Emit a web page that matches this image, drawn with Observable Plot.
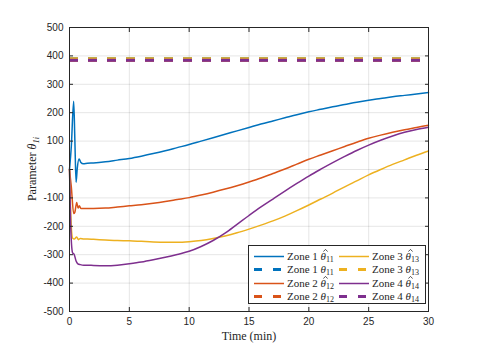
<!DOCTYPE html>
<html><head><meta charset="utf-8">
<script src="https://cdn.jsdelivr.net/npm/d3@7"></script>
<script src="https://cdn.jsdelivr.net/npm/@observablehq/plot@0.6"></script>
<style>
body{margin:0;background:#fff;}
#wrap{position:relative;width:484px;height:347px;}
#legend{position:absolute;left:248px;top:245px;width:176px;height:57px;border:1px solid #262626;background:#fff;font-family:"Liberation Serif",serif;font-size:11px;color:#262626;}
.item{position:absolute;height:13px;line-height:13px;white-space:nowrap;}
.item svg.s{position:absolute;left:0;top:0;}
.item span.t{position:absolute;top:0;}
.hat{position:relative;display:inline-block;font-style:italic;}
.hat svg{position:absolute;left:2px;top:-1px;}
sub{font-size:8px;vertical-align:-2px;line-height:0;}
</style></head><body><div id="wrap"></div>
<script>
// ---- data ----
const zones = ["Zone 1", "Zone 2", "Zone 3", "Zone 4"];
const subs = ["11", "12", "13", "14"];
const colors = ["#0072BD", "#D95319", "#EDB120", "#7E2F8E"];
const xTicks = [0, 5, 10, 15, 20, 25, 30];
const yTicks = [-500, -400, -300, -200, -100, 0, 100, 200, 300, 400, 500];

// true parameter values (dashed)
const trueValues = [390, 385, 390, 385];

// early transient (t < 1.5 min)
const z1TrT = [0, 0.15, 0.35, 0.45, 0.55, 0.65, 0.8, 0.95, 1.15];
const z1TrV = [0, 80, 240, 100, -45, 5, 37, 25, 20];
const z2TrT = [0, 0.15, 0.35, 0.45, 0.6, 0.72, 0.82, 0.95, 1.2];
const z2TrV = [0, -60, -155, -150, -116, -136, -128, -137, -137];
const z3TrT = [0, 0.1, 0.25, 0.4, 0.6, 0.75, 0.9, 1.2];
const z3TrV = [0, -150, -241, -245, -238, -247, -243, -245];
const z4TrT = [0, 0.1, 0.25, 0.4, 0.55, 0.7, 0.9, 1.2];
const z4TrV = [0, -200, -292, -300, -322, -332, -335, -337];

// slow evolution
const timeMin = [1.5, 2, 3, 4, 5, 6, 7, 8, 9, 10, 11, 12, 13, 14, 15, 16, 17, 18, 19, 20, 21, 22, 23, 24, 25, 26, 27, 28, 29, 30];
const z1Est = [22, 23, 27, 33, 39, 47, 56, 66, 77, 88, 100, 112, 124, 136, 148, 160, 171, 182, 193, 203, 212, 221, 229, 237, 244, 250, 256, 261, 266, 271];
const z2Est = [-137, -137, -136, -132, -128, -124, -119, -113, -106, -99, -90, -80, -69, -57, -44, -30, -14, 2, 19, 36, 51, 66, 81, 96, 110, 121, 131, 140, 148, 156];
const z3Est = [-245, -246, -248, -250, -251, -253, -255, -256, -256, -254, -250, -243, -234, -223, -210, -196, -181, -164, -145, -125, -104, -83, -61, -40, -19, 0, 18, 34, 50, 65];
const z4Est = [-337, -338, -339, -337, -332, -326, -318, -309, -299, -288, -271, -250, -224, -193, -162, -132, -104, -76, -49, -23, 1, 24, 46, 67, 86, 103, 118, 131, 141, 149];

const trT = [z1TrT, z2TrT, z3TrT, z4TrT];
const trV = [z1TrV, z2TrV, z3TrV, z4TrV];
const est = [z1Est, z2Est, z3Est, z4Est];

const series = zones.map((z, i) => [
  ...trT[i].map((t, j) => ({t, v: trV[i][j]})),
  ...timeMin.map((t, j) => ({t, v: est[i][j]}))
]);

const marks = [
  Plot.gridX(xTicks, {stroke: "#000", strokeOpacity: 0.1}),
  Plot.gridY(yTicks, {stroke: "#000", strokeOpacity: 0.1})
];
zones.forEach((z, i) => {
  marks.push(Plot.line(series[i], {x: "t", y: "v", stroke: colors[i], strokeWidth: 1.5, curve: "monotone-x"}));
  marks.push(Plot.ruleY([trueValues[i]], {stroke: colors[i], strokeWidth: 3, strokeDasharray: "9,10"}));
});
marks.push(
  Plot.frame({stroke: "#262626"}),
  Plot.axisX(xTicks, {tickSize: 0, tickPadding: 6, label: null, tickFormat: d => String(d)}),
  Plot.axisX(xTicks, {anchor: "bottom", tickSize: -4, tickFormat: () => "", label: null}),
  Plot.axisX(xTicks, {anchor: "top", tickSize: -4, tickFormat: () => "", label: null}),
  Plot.axisY(yTicks, {tickSize: 0, tickPadding: 6, label: null, tickFormat: d => String(d)}),
  Plot.axisY(yTicks, {anchor: "left", tickSize: -4, tickFormat: () => "", label: null}),
  Plot.axisY(yTicks, {anchor: "right", tickSize: -4, tickFormat: () => "", label: null})
);

const chart = Plot.plot({
  width: 484, height: 347,
  marginLeft: 69, marginRight: 56, marginTop: 27, marginBottom: 36,
  x: {domain: [0, 30]},
  y: {domain: [-500, 500]},
  style: {fontFamily: "'Liberation Sans', Arial, sans-serif", fontSize: "10px", color: "#262626", background: "#fff"},
  marks
});
const wrap = document.getElementById("wrap");
wrap.appendChild(chart);

const svg = d3.select(chart);
// axis titles
svg.append("text").attr("x", 249).attr("y", 340).attr("text-anchor", "middle")
  .attr("font-family", "'Liberation Serif', serif").attr("font-size", 12).attr("fill", "#262626").text("Time (min)");
const yl = svg.append("text").attr("transform", "translate(36,169) rotate(-90)").attr("text-anchor", "middle")
  .attr("font-family", "'Liberation Serif', serif").attr("font-size", 12).attr("fill", "#262626");
yl.append("tspan").text("Parameter ");
yl.append("tspan").attr("font-style", "italic").text("θ");
yl.append("tspan").attr("font-size", 8.5).attr("dy", 3).attr("font-style", "italic").text("1i");

// legend
const leg = document.createElement("div");
leg.id = "legend";
const order = [];
zones.forEach((z, i) => { order.push({i, hat: true}); order.push({i, hat: false}); });
order.forEach((o, k) => {
  const col = Math.floor(k / 4), row = k % 4;
  const it = document.createElement("div");
  it.className = "item";
  it.style.left = (col === 0 ? 4 : 89) + "px";
  it.style.top = (3.5 + row * 13.5) + "px";
  const dash = o.hat ? "" : `stroke-dasharray="8,11"`;
  const sw = o.hat ? 1.5 : 3;
  const sym = o.hat
    ? `<span class="hat">θ<svg width="5" height="3"><polyline points="0.3,2.6 2.5,0.4 4.7,2.6" fill="none" stroke="#262626" stroke-width="0.8"/></svg></span>`
    : `<i>θ</i>`;
  it.innerHTML = `<svg class="s" width="32" height="13"><line x1="1" x2="31" y1="6.5" y2="6.5" stroke="${colors[o.i]}" stroke-width="${sw}" ${dash}/></svg>` +
    `<span class="t" style="left:34px">${zones[o.i]} ${sym}<sub>${subs[o.i]}</sub></span>`;
  leg.appendChild(it);
});
wrap.appendChild(leg);
</script></body></html>
